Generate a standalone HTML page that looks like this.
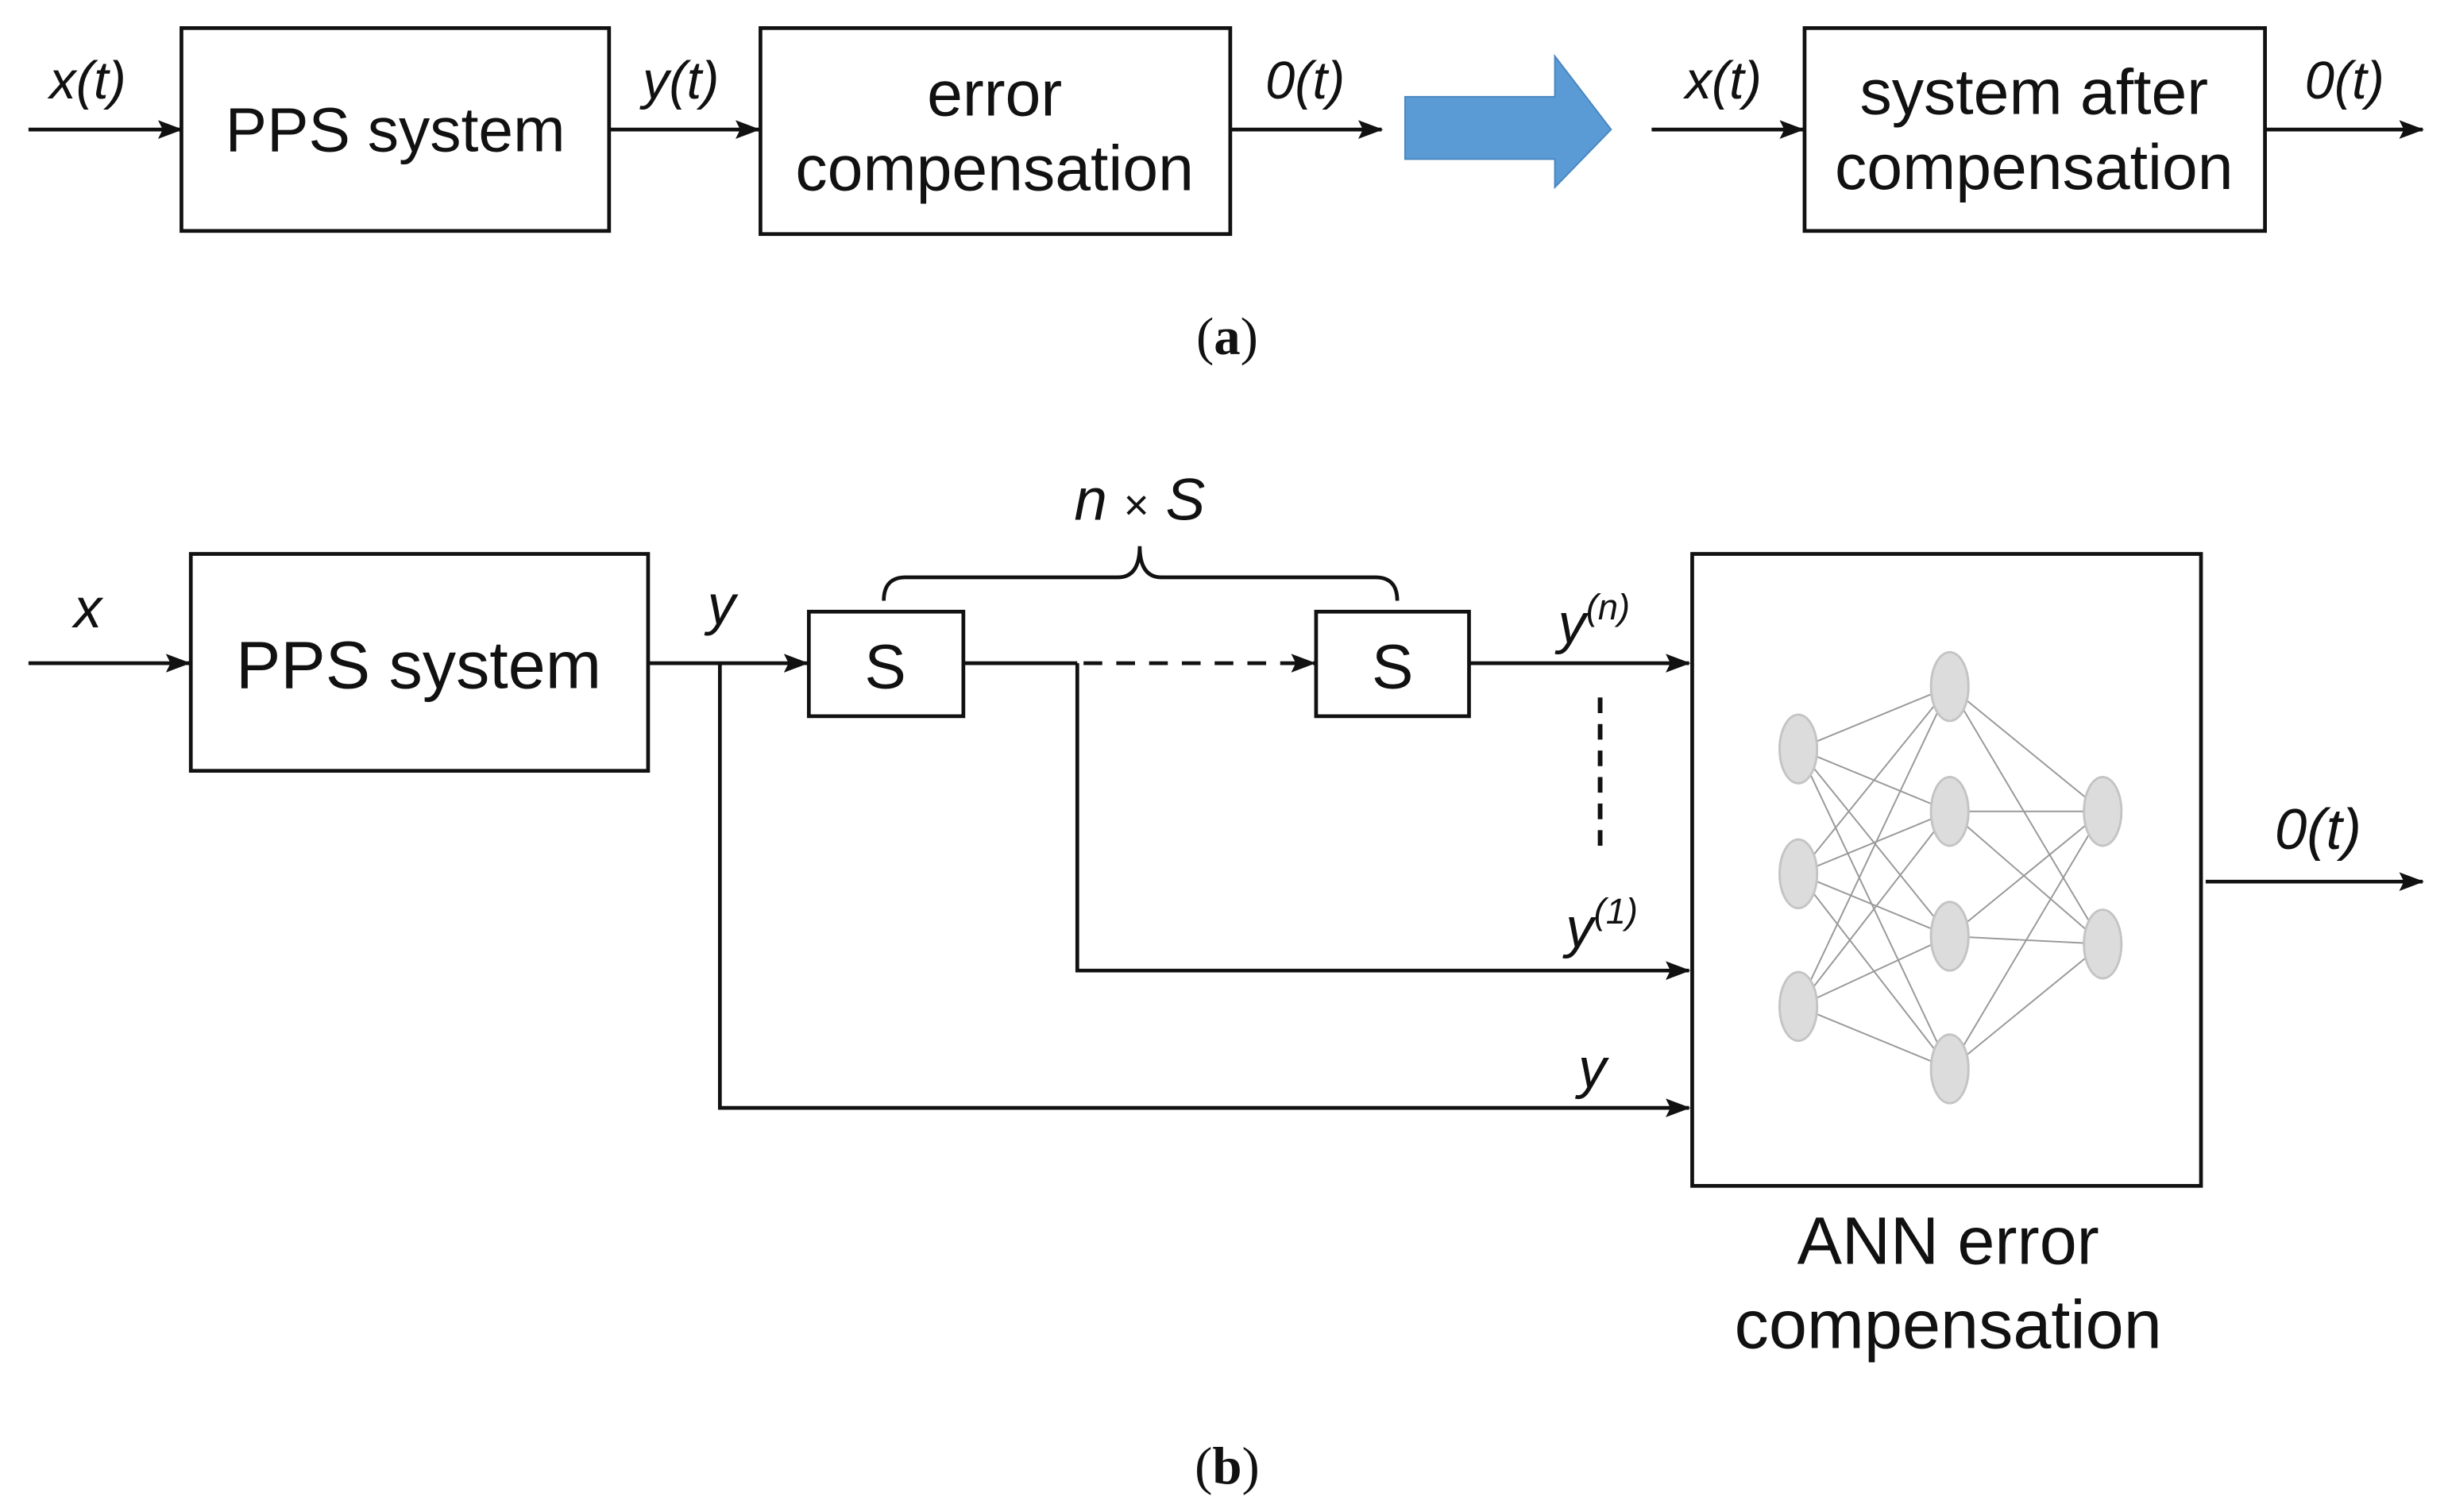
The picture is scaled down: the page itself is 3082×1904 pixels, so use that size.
<!DOCTYPE html>
<html><head><meta charset="utf-8"><style>
html,body{margin:0;padding:0;background:#fff;}
svg{display:block;}
text{font-family:"Liberation Sans",sans-serif;fill:#111;}
.it{font-style:italic;}
.ser{font-family:"Liberation Serif",serif;}
</style></head><body>
<svg width="3082" height="1904" viewBox="0 0 1568 969" xmlns="http://www.w3.org/2000/svg">
<defs>
<marker id="ah" markerWidth="16" markerHeight="12" refX="15" refY="6" orient="auto" markerUnits="userSpaceOnUse">
<path d="M0,0 L16,6 L0,12 L3,6 z" fill="#111"/>
</marker>
</defs>
<g stroke="#111" stroke-width="2.4" fill="none">
<!-- (a) -->
<rect x="116" y="18" width="274" height="130"/>
<rect x="487" y="18" width="301" height="132"/>
<rect x="1156" y="18" width="295" height="130"/>
<line x1="18" y1="83" x2="116" y2="83" marker-end="url(#ah)"/>
<line x1="390" y1="83" x2="486" y2="83" marker-end="url(#ah)"/>
<line x1="788" y1="83" x2="885" y2="83" marker-end="url(#ah)"/>
<line x1="1058" y1="83" x2="1155" y2="83" marker-end="url(#ah)"/>
<line x1="1451" y1="83" x2="1552" y2="83" marker-end="url(#ah)"/>
</g>
<path d="M900,62 L996,62 L996,36 L1032,83 L996,120 L996,102 L900,102 z" fill="#5b9bd5" stroke="#4a86bf" stroke-width="1"/>
<text x="56" y="63" font-size="34" text-anchor="middle" class="it">x(t)</text>
<text x="436" y="63" font-size="34" text-anchor="middle" class="it">y(t)</text>
<text x="836" y="63" font-size="34" text-anchor="middle" class="it">0(t)</text>
<text x="1104" y="63" font-size="34" text-anchor="middle" class="it">x(t)</text>
<text x="1502" y="63" font-size="34" text-anchor="middle" class="it">0(t)</text>
<text x="253" y="97" font-size="40" text-anchor="middle">PPS system</text>
<text x="637" y="74" font-size="41" text-anchor="middle">error</text>
<text x="637" y="122" font-size="41" text-anchor="middle">compensation</text>
<text x="1303" y="73" font-size="41" text-anchor="middle">system after</text>
<text x="1303" y="121" font-size="41" text-anchor="middle">compensation</text>
<text x="786" y="227" font-size="34" text-anchor="middle" class="ser">(<tspan font-weight="bold">a</tspan>)</text>

<!-- (b) -->
<g stroke="#111" stroke-width="2.4" fill="none">
<rect x="122" y="355" width="293" height="139"/>
<rect x="518" y="392" width="99" height="67"/>
<rect x="843" y="392" width="98" height="67"/>
<rect x="1084" y="355" width="326" height="405"/>
<line x1="18" y1="425" x2="121" y2="425" marker-end="url(#ah)"/>
<line x1="415" y1="425" x2="517" y2="425" marker-end="url(#ah)"/>
<line x1="617" y1="425" x2="690" y2="425"/>
<line x1="694" y1="425" x2="842" y2="425" stroke-dasharray="12,9" marker-end="url(#ah)"/>
<line x1="941" y1="425" x2="1082" y2="425" marker-end="url(#ah)"/>
<polyline points="690,425 690,622 1082,622" marker-end="url(#ah)"/>
<polyline points="461,425 461,710 1082,710" marker-end="url(#ah)"/>
<line x1="1025" y1="447" x2="1025" y2="548" stroke-width="3" stroke-dasharray="10,7"/>
<line x1="1413" y1="565" x2="1552" y2="565" marker-end="url(#ah)"/>
<path d="M566,385 Q566,370 580,370 L716,370 Q730,370 730,350 Q730,370 744,370 L881,370 Q895,370 895,385"/>
</g>
<g stroke="#999" stroke-width="1" fill="none">
<path d="M1152,480L1249,440M1152,480L1249,520M1152,480L1249,600M1152,480L1249,685
M1152,560L1249,440M1152,560L1249,520M1152,560L1249,600M1152,560L1249,685
M1152,645L1249,440M1152,645L1249,520M1152,645L1249,600M1152,645L1249,685
M1249,440L1347,520M1249,440L1347,605M1249,520L1347,520M1249,520L1347,605
M1249,600L1347,520M1249,600L1347,605M1249,685L1347,520M1249,685L1347,605"/>
</g>
<g fill="#dcdcdc" stroke="#c4c4c4" stroke-width="1.5">
<ellipse cx="1152" cy="480" rx="12" ry="22"/>
<ellipse cx="1152" cy="560" rx="12" ry="22"/>
<ellipse cx="1152" cy="645" rx="12" ry="22"/>
<ellipse cx="1249" cy="440" rx="12" ry="22"/>
<ellipse cx="1249" cy="520" rx="12" ry="22"/>
<ellipse cx="1249" cy="600" rx="12" ry="22"/>
<ellipse cx="1249" cy="685" rx="12" ry="22"/>
<ellipse cx="1347" cy="520" rx="12" ry="22"/>
<ellipse cx="1347" cy="605" rx="12" ry="22"/>
</g>
<text x="56" y="402" font-size="36" text-anchor="middle" class="it">x</text>
<text x="462" y="400" font-size="36" text-anchor="middle" class="it">y</text>
<text x="268" y="441" font-size="43" text-anchor="middle">PPS system</text>
<text x="567" y="441" font-size="40" text-anchor="middle">S</text>
<text x="892" y="441" font-size="40" text-anchor="middle">S</text>
<text x="730" y="333" font-size="38" text-anchor="middle" class="it">n <tspan font-style="normal" font-size="28">×</tspan> S</text>
<text x="998" y="412" font-size="36" class="it">y<tspan font-size="23" dy="-15">(n)</tspan></text>
<text x="1003" y="607" font-size="36" class="it">y<tspan font-size="23" dy="-15">(1)</tspan></text>
<text x="1020" y="697" font-size="36" text-anchor="middle" class="it">y</text>
<text x="1485" y="544" font-size="37" text-anchor="middle" class="it">0(t)</text>
<text x="1248" y="810" font-size="43" text-anchor="middle">ANN error</text>
<text x="1248" y="864" font-size="44" text-anchor="middle">compensation</text>
<text x="786" y="951" font-size="34" text-anchor="middle" class="ser">(<tspan font-weight="bold">b</tspan>)</text>
</svg>
</body></html>
